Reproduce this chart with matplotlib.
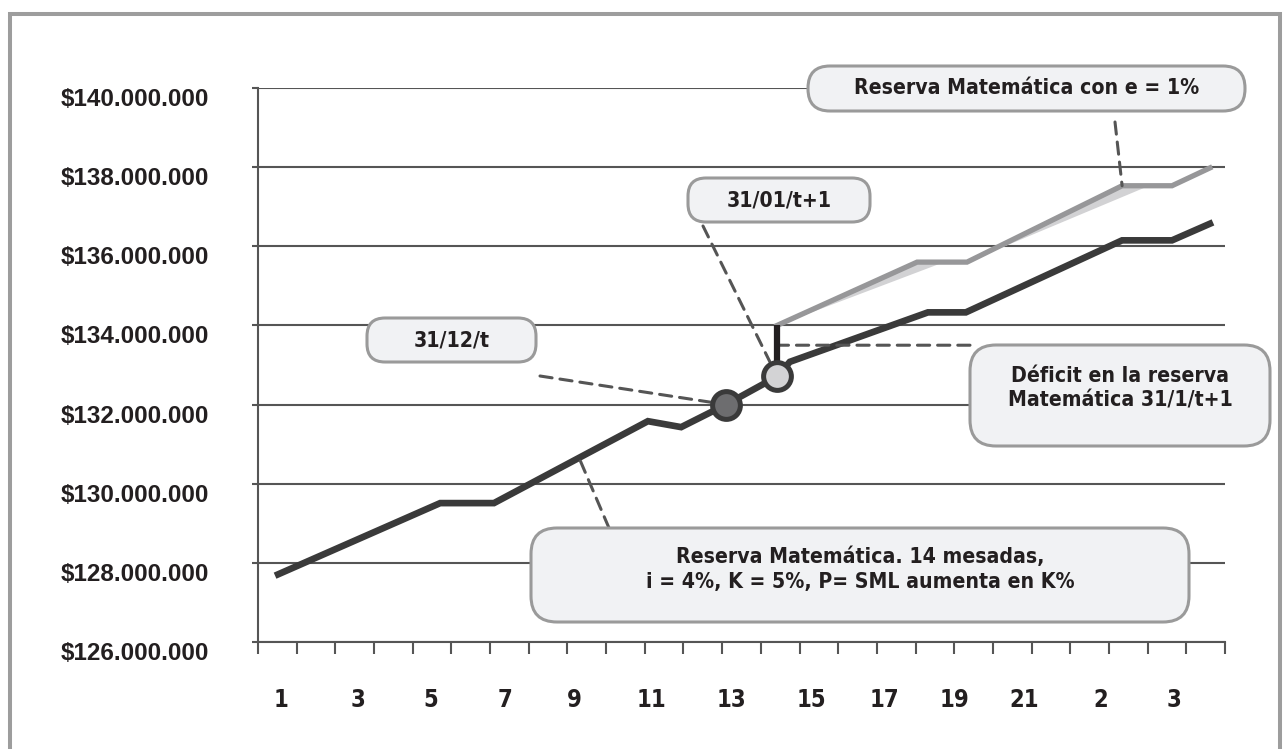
import numpy as np
import matplotlib.pyplot as plt
import matplotlib.transforms as mtransforms
from matplotlib.patches import FancyBboxPatch, Rectangle
from matplotlib.ticker import FuncFormatter, FixedLocator

W, H = 1287, 749

# reserva matemática base (pesos) sobre una escala continua de periodos
periodo_base = [0.52, 4.71, 6.10, 10.08, 10.94, 12.10, 13.42, 13.75, 17.32, 18.30, 22.34, 23.63, 24.61]
reserva_base = [127.71e6, 129.51e6, 129.51e6, 131.58e6, 131.43e6, 132.00e6, 132.71e6,
                133.08e6, 134.33e6, 134.33e6, 136.15e6, 136.15e6, 136.57e6]

# reserva matemática con e = 1%
periodo_e1 = [13.42, 17.04, 18.33, 22.34, 23.63, 24.61]
reserva_e1 = [134.00e6, 135.60e6, 135.60e6, 137.53e6, 137.53e6, 137.98e6]

i_dic = 5          # 31/12/t
i_ene = 6          # 31/01/t+1
nivel_deficit = 133.50e6
periodo_nota = 8.30

x_labels = ['1', '3', '5', '7', '9', '11', '13', '15', '17', '19', '21', '2', '3']
x_label_pos = [0.59, 2.59, 4.47, 6.39, 8.17, 10.16, 12.25, 14.30, 16.20, 18.01, 19.80, 21.79, 23.68]
y_ticks = np.arange(126e6, 140.1e6, 2e6)

NARROW = ['DejaVu Sans']
SANS = ['Liberation Sans', 'DejaVu Sans']
INK = '#231f20'
GRID = '#555555'

fig = plt.figure(figsize=(W / 100, H / 100), dpi=100)
ax = fig.add_axes([258 / W, 1 - 642 / H, (1225 - 258) / W, (642 - 88) / H])

ax.set_xlim(0, 25)
ax.set_ylim(126e6, 140e6)

# ejes y rejilla
for s in ['top', 'right']:
    ax.spines[s].set_visible(False)
for s in ['left', 'bottom']:
    ax.spines[s].set_color(GRID)
    ax.spines[s].set_linewidth(1.5)
ax.set_yticks(y_ticks)
ax.yaxis.set_major_formatter(FuncFormatter(lambda v, p: '${:,.0f}'.format(v).replace(',', '.')))
ax.grid(axis='y', color=GRID, lw=1.5, zorder=0)
ax.set_axisbelow(True)
ax.tick_params(axis='y', direction='out', length=4.3, width=1.5, color=GRID, pad=31,
               labelsize=17.5, labelcolor=INK)
for lab in ax.get_yticklabels():
    lab.set_fontfamily(SANS)
    lab.set_fontweight('bold')
    lab.set_transform(lab.get_transform() + mtransforms.ScaledTranslation(0, -9 / 100, fig.dpi_scale_trans))

ax.xaxis.set_major_locator(FixedLocator(np.arange(0, 26)))
ax.xaxis.set_major_formatter(FuncFormatter(lambda v, p: ''))
ax.set_xticks(x_label_pos, x_labels, minor=True)
ax.tick_params(axis='x', which='major', direction='out', length=8.6, width=1.5, color=GRID)
ax.tick_params(axis='x', which='minor', length=0, pad=33, labelsize=17, labelcolor=INK)
for lab in ax.get_xticklabels(minor=True):
    lab.set_fontfamily(NARROW)
    lab.set_fontstretch('condensed')
    lab.set_fontweight('bold')

# sombra clara bajo la curva con e = 1%
sombra_x = list(periodo_e1[:5])
sombra_x[1] += 0.7
sombra_x[3] += 0.7
poly_x = list(periodo_e1[:5]) + sombra_x[::-1]
poly_y = list(reserva_e1[:5]) + list(reserva_e1[:5])[::-1]
ax.fill(poly_x, poly_y, color='#d2d2d4', lw=0, zorder=2)

ax.plot(periodo_e1, reserva_e1, color='#979799', lw=3.8, solid_joinstyle='miter', zorder=3)
ax.plot(periodo_base, reserva_base, color='#3a3a3a', lw=4.8, solid_joinstyle='miter', zorder=4)

# déficit entre ambas reservas al 31/01/t+1
ax.vlines(periodo_base[i_ene], reserva_base[i_ene], reserva_e1[0], color=INK, lw=4.5, zorder=5)

dash = dict(arrowstyle='-', linestyle=(0, (4, 2.6)), lw=2.2, color=GRID, shrinkA=0, shrinkB=0)
ax.annotate('', xy=(periodo_base[i_ene], nivel_deficit), xycoords='data',
            xytext=(970, nivel_deficit), textcoords=('figure pixels', 'data'),
            arrowprops=dash, zorder=4.5)

ax.plot(periodo_base[i_dic], reserva_base[i_dic], 'o', ms=20, mfc='#6d6d6f', mec='#3a3a3a', mew=3.6, zorder=6)
ax.plot(periodo_base[i_ene], reserva_base[i_ene], 'o', ms=20, mfc='#d3d3d5', mec='#3a3a3a', mew=3.6, zorder=6)

# líneas guía hacia las notas
y_nota = np.interp(periodo_nota, periodo_base, reserva_base)
guias = [
    ((periodo_e1[3], reserva_e1[3]), (1115, 122)),
    ((periodo_base[i_ene], reserva_base[i_ene]), (703, 226)),
    ((periodo_base[i_dic], reserva_base[i_dic]), (540, 376)),
    ((periodo_nota, y_nota), (609, 528)),
]
for xy, (px, py) in guias:
    ax.annotate('', xy=xy, xycoords='data', xytext=(px, H - py), textcoords='figure pixels',
                arrowprops=dash, zorder=4.5)

# notas: caja (px), radio de esquina, desplazamiento vertical del texto, texto
notas = [
    (808, 66, 1245, 111, 22, 0, 'Reserva Matemática con e = 1%'),
    (688, 178, 870, 222, 18, 0, '31/01/t+1'),
    (367, 318, 536, 362, 18, 0, '31/12/t'),
    (970, 345, 1270, 446, 26, -7, 'Déficit en la reserva\nMatemática 31/1/t+1'),
    (531, 528, 1189, 622, 26, -6, 'Reserva Matemática. 14 mesadas,\ni = 4%, K = 5%, P= SML aumenta en K%'),
]
for x0, y0, x1, y1, r, dy, txt in notas:
    caja = FancyBboxPatch((x0, H - y1), x1 - x0, y1 - y0,
                          boxstyle='round,pad=0,rounding_size=%d' % r,
                          transform=mtransforms.IdentityTransform(),
                          fc='#f1f2f4', ec='#9a9a9a', lw=2.2, zorder=8)
    fig.patches.append(caja)
    fig.text((x0 + x1) / 2 / W, 1 - ((y0 + y1) / 2 + dy) / H, txt, ha='center', va='center',
             fontsize=15.2, fontweight='bold', family=NARROW, fontstretch='condensed',
             color=INK, linespacing=1.3, zorder=9)

# marco exterior
fig.patches.append(Rectangle((10, -20), 1270, H - 14 + 20, transform=mtransforms.IdentityTransform(),
                             fill=False, ec='#9d9d9d', lw=2.9, zorder=10))

fig.savefig('out.png', dpi=100)
